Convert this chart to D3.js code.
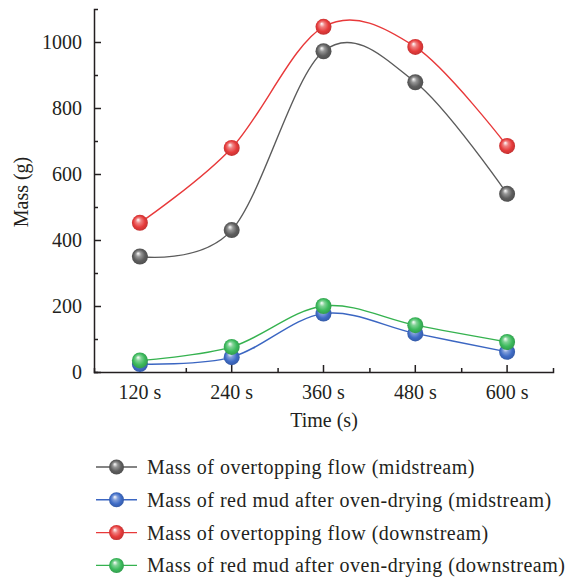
<!DOCTYPE html>
<html>
<head>
<meta charset="utf-8">
<script src="https://cdn.jsdelivr.net/npm/d3@7"></script>
<style>
  body { margin: 0; background: #fff; }
  svg text { font-family: "Liberation Serif", "DejaVu Serif", serif; fill: #231f20; }
</style>
</head>
<body>
<div id="chart"></div>
<script>
// data
const times = ["120 s", "240 s", "360 s", "480 s", "600 s"];
const flowMid = [350, 430, 972, 878, 540];
const mudMid = [24, 45, 177, 117, 61];
const flowDown = [452, 679, 1046, 985, 685];
const mudDown = [35, 76, 200, 142, 91];
const yTicks = [0, 200, 400, 600, 800, 1000];
const yMinor = [100, 300, 500, 700, 900];

const seriesList = [
    { name: "Mass of overtopping flow (midstream)", values: flowMid, line: "#5b5b5b", ball: "#5e5e5e" },
    { name: "Mass of red mud after oven-drying (midstream)", values: mudMid, line: "#3b66c2", ball: "#3f6cc6" },
    { name: "Mass of overtopping flow (downstream)", values: flowDown, line: "#e8393a", ball: "#e63b3b" },
    { name: "Mass of red mud after oven-drying (downstream)", values: mudDown, line: "#35b24f", ball: "#3cba5c" }
];

const width = 571, height = 579;
const svg = d3.select("#chart").append("svg")
    .attr("width", width)
    .attr("height", height);

// sphere gradients
const defs = svg.append("defs");
seriesList.forEach((s, i) => {
    const g = defs.append("radialGradient")
        .attr("id", "ball" + i)
        .attr("cx", "0.5").attr("cy", "0.5").attr("r", "0.55")
        .attr("fx", "0.38").attr("fy", "0.3");
    g.append("stop").attr("offset", "0").attr("stop-color", "#ffffff");
    g.append("stop").attr("offset", "0.3").attr("stop-color", d3.interpolateRgb(s.ball, "#fff")(0.35));
    g.append("stop").attr("offset", "0.65").attr("stop-color", s.ball);
    g.append("stop").attr("offset", "1").attr("stop-color", d3.color(s.ball).darker(0.6));
});

const x = d3.scaleBand().domain(times).range([94, 553]);
const y = d3.scaleLinear().domain([0, 1100]).range([372, 9]);
const cx = d => x(d) + x.bandwidth() / 2;

// axes
const xAxis = svg.append("g")
    .attr("transform", "translate(0,372)")
    .call(d3.axisBottom(x).tickSizeInner(-7).tickSizeOuter(-4).tickPadding(13));
const xMinor = svg.append("g")
    .attr("transform", "translate(0,372)")
    .call(d3.axisBottom(d3.scaleLinear().domain([0, 1]).range([94, 553]))
        .tickValues([1, 2, 3, 4].map(i => i / 5)).tickSize(-4).tickFormat(""));
xMinor.select(".domain").remove();

const yAxis = svg.append("g")
    .attr("transform", "translate(94,0)")
    .call(d3.axisLeft(y).tickValues(yTicks).tickFormat(d3.format("d"))
        .tickSizeInner(-7).tickSizeOuter(-4).tickPadding(12));
const yMinorAxis = svg.append("g")
    .attr("transform", "translate(94,0)")
    .call(d3.axisLeft(y).tickValues(yMinor).tickSize(-4).tickFormat(""));
yMinorAxis.select(".domain").remove();

svg.selectAll(".domain, .tick line").attr("stroke", "#231f20").attr("stroke-width", 1.5);
xAxis.selectAll("text").style("font-size", "20px").attr("fill", "#231f20");
yAxis.selectAll("text").style("font-size", "20px").attr("fill", "#231f20");

// axis titles
svg.append("text")
    .attr("x", 324)
    .attr("y", 427)
    .attr("text-anchor", "middle")
    .style("font-size", "20px")
    .text("Time (s)");

svg.append("text")
    .attr("transform", "translate(28,192) rotate(-90)")
    .attr("text-anchor", "middle")
    .style("font-size", "20px")
    .text("Mass (g)");

// lines
const line = d3.line()
    .x((d, i) => cx(times[i]))
    .y(d => y(d))
    .curve(d3.curveCardinal.tension(0));

seriesList.forEach((s, i) => {
    svg.append("path")
        .datum(s.values)
        .attr("fill", "none")
        .attr("stroke", s.line)
        .attr("stroke-width", 1.4)
        .attr("d", line);
});

seriesList.forEach((s, i) => {
    svg.append("g").selectAll("circle")
        .data(s.values)
        .enter()
        .append("circle")
        .attr("cx", (d, j) => cx(times[j]))
        .attr("cy", d => y(d))
        .attr("r", 8)
        .attr("fill", `url(#ball${i})`);
});

// legend
const legend = svg.append("g").attr("transform", "translate(96,467)");
seriesList.forEach((s, i) => {
    const row = legend.append("g").attr("transform", `translate(0,${i * 32.8})`);
    row.append("line")
        .attr("x1", 0).attr("x2", 41)
        .attr("stroke", s.line).attr("stroke-width", 1.4);
    row.append("circle")
        .attr("cx", 20.5).attr("r", 7.5)
        .attr("fill", `url(#ball${i})`);
    row.append("text")
        .attr("x", 51)
        .attr("dy", "0.35em")
        .style("font-size", "20px")
        .style("letter-spacing", "0.5px")
        .text(s.name);
});
</script>
</body>
</html>
